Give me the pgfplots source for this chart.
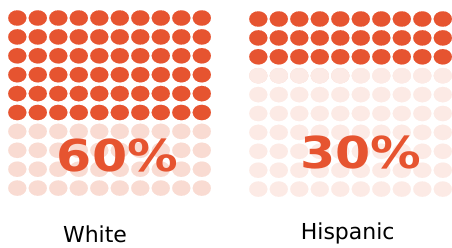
\documentclass[border=0pt]{standalone}
\usepackage{pgfplots}
\pgfplotsset{compat=1.18}
\usepackage{pgfplotstable}
\usepackage{fontspec}
\setmainfont{DejaVu Sans}
\definecolor{org}{HTML}{E65430}
\definecolor{lightA}{HTML}{F9DBD2}
\definecolor{lightB}{HTML}{FCEAE5}
\definecolor{lightC}{HTML}{F9D8CF}
% column, row of each dot (1..10)
\pgfplotstableread{
c r
1 1
2 1
3 1
4 1
5 1
6 1
7 1
8 1
9 1
10 1
1 2
2 2
3 2
4 2
5 2
6 2
7 2
8 2
9 2
10 2
1 3
2 3
3 3
4 3
5 3
6 3
7 3
8 3
9 3
10 3
}\rowsAtoC
\pgfplotstableread{
c r
1 4
2 4
3 4
4 4
5 4
6 4
7 4
8 4
9 4
10 4
1 5
2 5
3 5
4 5
5 5
6 5
7 5
8 5
9 5
10 5
1 6
2 6
3 6
4 6
5 6
6 6
7 6
8 6
9 6
10 6
}\rowsDtoF
\pgfplotstableread{
c r
1 7
2 7
3 7
4 7
5 7
6 7
7 7
8 7
9 7
10 7
1 8
2 8
3 8
4 8
5 8
6 8
7 8
8 8
9 8
10 8
1 9
2 9
3 9
4 9
5 9
6 9
7 9
8 9
9 9
10 9
1 10
2 10
3 10
4 10
5 10
6 10
7 10
8 10
9 10
10 10
}\rowsGtoJ
\pgfplotstableread{
c r
1 4
2 4
3 4
4 4
5 4
}\rowFourA
\pgfplotstableread{
c r
6 4
7 4
8 4
9 4
10 4
}\rowFourB
\begin{document}
\begin{tikzpicture}
\begin{axis}[
  width=452pt, height=246pt, scale only axis,
  xmin=0, xmax=452, ymin=0, ymax=246, y dir=reverse,
  axis lines=none, clip=false,
  dot/.style={only marks, mark=*, mark size=7.7pt, color=#1,
    mark options={xscale=1.18, draw=#1, fill=#1, line width=0.1pt}},
]
% White (60%)
\addplot[dot=org] table[x expr=17.3+20.5*(\thisrow{c}-1), y expr=18+18.9*(\thisrow{r}-1)] {\rowsAtoC};
\addplot[dot=org] table[x expr=17.3+20.5*(\thisrow{c}-1), y expr=18+18.9*(\thisrow{r}-1)] {\rowsDtoF};
\addplot[dot=lightA] table[x expr=17.3+20.5*(\thisrow{c}-1), y expr=18+18.9*(\thisrow{r}-1)] {\rowsGtoJ};
% Hispanic (30%)
\addplot[dot=org] table[x expr=258.3+20.5*(\thisrow{c}-1), y expr=19+18.9*(\thisrow{r}-1)] {\rowsAtoC};
\addplot[dot=lightC] table[x expr=258.3+20.5*(\thisrow{c}-1), y expr=19+18.9*(\thisrow{r}-1)] {\rowFourA};
\addplot[dot=lightB] table[x expr=258.3+20.5*(\thisrow{c}-1), y expr=19+18.9*(\thisrow{r}-1)] {\rowFourB};
\addplot[dot=lightB] table[x expr=258.3+20.5*(\thisrow{c}-1), y expr=19+18.9*(\thisrow{r}-1)] {\rowsDtoF};
\addplot[dot=lightB] table[x expr=258.3+20.5*(\thisrow{c}-1), y expr=19+18.9*(\thisrow{r}-1)] {\rowsGtoJ};
\coordinate (pA) at (axis cs:117.5,171.7);
\coordinate (pB) at (axis cs:361,168.3);
\coordinate (lA) at (axis cs:95,242.7);
\coordinate (lB) at (axis cs:347.7,239.3);
\coordinate (bbA) at (axis cs:0,0);
\coordinate (bbB) at (axis cs:452,246);
\end{axis}
% big numbers
\node[anchor=base, text=org, font=\fontsize{44}{44}\selectfont\bfseries, xscale=1.15] at (pA) {60\%};
\node[anchor=base, text=org, font=\fontsize{44}{44}\selectfont\bfseries, xscale=1.15] at (pB) {30\%};
% labels
\node[anchor=base, font=\fontsize{22}{22}\selectfont] at (lA) {White};
\node[anchor=base, font=\fontsize{22}{22}\selectfont] at (lB) {Hispanic};
\useasboundingbox (bbA) rectangle (bbB);
\end{tikzpicture}
\end{document}
